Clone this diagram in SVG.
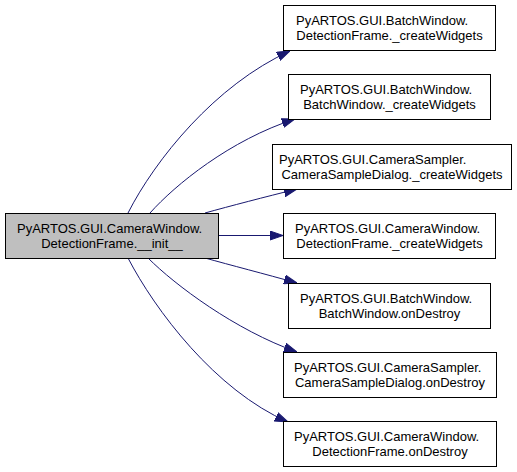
<svg xmlns="http://www.w3.org/2000/svg" width="517" height="472" viewBox="0 0 517 472">
<style>
.box{fill:#ffffff;stroke:#000000;stroke-width:1}
.main{fill:#bfbfbf;stroke:#000000;stroke-width:1}
text{font-family:"Liberation Sans",Arial,sans-serif;font-size:13px;fill:#000000;text-anchor:middle}
text.l{text-anchor:start}
.edge{fill:none;stroke:#191970;stroke-width:1;marker-end:url(#arrow)}
</style>
<defs>
<marker id="arrow" markerUnits="userSpaceOnUse" markerWidth="13" markerHeight="10" refX="13" refY="5" orient="auto" viewBox="0 0 13 10">
<path d="M0,0.5 L13,5 L0,9.5 z" fill="#191970" stroke="#191970" stroke-width="1"/>
</marker>
</defs>
<rect width="517" height="472" fill="#ffffff"/>
<g id="connectors">
<path class="edge" d="M128,213 C155,160 215,85 290,51"/>
<path class="edge" d="M150,213 C175,185 230,140 295,119"/>
<path class="edge" d="M205,213 C230,206 265,197 297,189"/>
<path class="edge" d="M218,235.5 L283,235.5"/>
<path class="edge" d="M205,258 C230,265 265,274 297,283"/>
<path class="edge" d="M148,258 C175,285 235,330 297,352"/>
<path class="edge" d="M128,258 C155,310 215,390 288,422"/>
</g>
<g id="main">
<rect class="main" x="5.5" y="213.5" width="213" height="45"/>
<text class="l" x="17" y="233">PyARTOS.GUI.CameraWindow.</text>
<text x="112" y="248">DetectionFrame.__init__</text>
</g>
<g id="n1">
<rect class="box" x="283.5" y="5.5" width="212" height="45"/>
<text class="l" x="296" y="25">PyARTOS.GUI.BatchWindow.</text>
<text x="389.5" y="40">DetectionFrame._createWidgets</text>
</g>
<g id="n2">
<rect class="box" x="288.5" y="74.5" width="202" height="45"/>
<text class="l" x="300" y="94">PyARTOS.GUI.BatchWindow.</text>
<text x="389.5" y="109">BatchWindow._createWidgets</text>
</g>
<g id="n3">
<rect class="box" x="272.5" y="144.5" width="239" height="45"/>
<text class="l" x="279" y="164">PyARTOS.GUI.CameraSampler.</text>
<text x="392" y="179">CameraSampleDialog._createWidgets</text>
</g>
<g id="n4">
<rect class="box" x="283.5" y="213.5" width="212" height="45"/>
<text class="l" x="295" y="233">PyARTOS.GUI.CameraWindow.</text>
<text x="389.5" y="248">DetectionFrame._createWidgets</text>
</g>
<g id="n5">
<rect class="box" x="288.5" y="283.5" width="202" height="45"/>
<text class="l" x="300" y="303">PyARTOS.GUI.BatchWindow.</text>
<text x="389.5" y="318">BatchWindow.onDestroy</text>
</g>
<g id="n6">
<rect class="box" x="283.5" y="352.5" width="213" height="45"/>
<text class="l" x="294" y="372">PyARTOS.GUI.CameraSampler.</text>
<text x="390" y="387">CameraSampleDialog.onDestroy</text>
</g>
<g id="n7">
<rect class="box" x="283.5" y="421.5" width="213" height="45"/>
<text class="l" x="294" y="441">PyARTOS.GUI.CameraWindow.</text>
<text x="390" y="456">DetectionFrame.onDestroy</text>
</g>
</svg>
